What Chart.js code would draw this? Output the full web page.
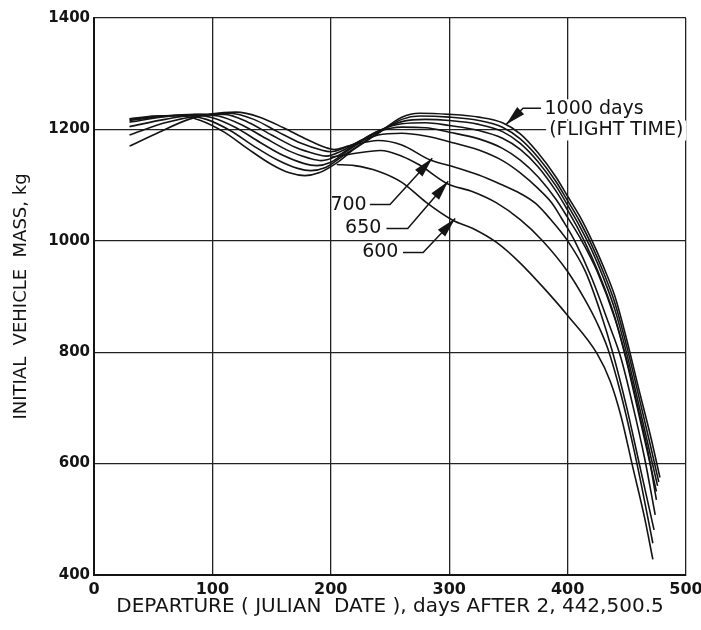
<!DOCTYPE html>
<html lang="en">
<head>
<meta charset="UTF-8">
<title>Initial vehicle mass vs departure date</title>
<script src="https://cdn.jsdelivr.net/npm/chart.js"></script>
<style>
  html, body { margin: 0; padding: 0; background: #fff; }
  #massChart { display: block; }
</style>
</head>
<body>
<canvas id="massChart" width="701" height="630"></canvas>
<script>
// departure day (after JD 2,442,500.5) and initial mass (kg), one pair per flight time
const days1000 = [30, 50, 70, 90, 110, 130, 150, 165, 178, 190, 205, 220, 240, 260, 275, 300, 325, 345, 360, 375, 390, 400, 410, 420, 430, 440, 450, 460, 470, 478];
const mass1000 = [1219, 1224, 1225, 1216, 1195, 1165, 1137, 1122, 1117, 1122, 1140, 1165, 1193, 1222, 1229, 1227, 1222, 1212, 1192, 1158, 1115, 1080, 1045, 1003, 955, 900, 822, 735, 650, 575];

const days950 = [30, 50, 75, 95, 115, 135, 155, 172, 183, 195, 210, 225, 240, 260, 275, 300, 325, 345, 360, 375, 390, 400, 410, 420, 430, 440, 450, 460, 470, 477];
const mass950 = [1218, 1223, 1225, 1218, 1198, 1170, 1145, 1130, 1126, 1131, 1152, 1173, 1194, 1218, 1224, 1222, 1216, 1204, 1183, 1150, 1107, 1072, 1036, 994, 945, 888, 810, 722, 632, 567];

const days900 = [30, 55, 80, 100, 120, 140, 160, 177, 188, 200, 215, 240, 260, 280, 300, 325, 345, 360, 375, 390, 400, 410, 420, 430, 440, 450, 460, 470, 476];
const mass900 = [1216, 1223, 1226, 1221, 1203, 1177, 1153, 1139, 1135, 1141, 1163, 1196, 1214, 1218, 1216, 1209, 1196, 1175, 1142, 1099, 1064, 1027, 985, 935, 876, 797, 707, 615, 560];

const days850 = [30, 60, 85, 105, 125, 145, 165, 182, 192, 205, 220, 240, 260, 280, 300, 325, 345, 360, 375, 390, 400, 410, 420, 430, 440, 450, 460, 470, 475];
const mass850 = [1213, 1223, 1227, 1224, 1208, 1184, 1161, 1148, 1144, 1152, 1172, 1197, 1210, 1212, 1207, 1198, 1184, 1164, 1133, 1090, 1055, 1017, 973, 922, 862, 782, 690, 597, 550];

const days800 = [30, 60, 90, 110, 130, 150, 170, 187, 196, 210, 225, 240, 260, 280, 300, 325, 345, 360, 375, 390, 400, 412, 425, 440, 450, 460, 468, 475];
const mass800 = [1205, 1218, 1227, 1227, 1213, 1190, 1168, 1156, 1152, 1162, 1180, 1196, 1204, 1203, 1195, 1183, 1166, 1145, 1115, 1075, 1042, 1000, 945, 860, 785, 695, 620, 535];

const days750 = [30, 60, 90, 115, 135, 155, 175, 192, 200, 215, 240, 260, 280, 300, 325, 345, 360, 375, 387, 395, 406, 420, 435, 445, 455, 465, 474];
const mass750 = [1190, 1212, 1225, 1229, 1218, 1196, 1175, 1163, 1160, 1170, 1190, 1193, 1188, 1178, 1163, 1144, 1122, 1094, 1067, 1040, 1000, 935, 850, 790, 705, 610, 508];

const days700 = [30, 55, 80, 100, 120, 140, 160, 180, 195, 203, 215, 240, 260, 284, 300, 325, 345, 360, 373, 385, 400, 415, 428, 438, 450, 460, 473];
const mass700 = [1170, 1195, 1218, 1228, 1231, 1222, 1203, 1182, 1168, 1164, 1170, 1180, 1172, 1145, 1135, 1118, 1100, 1085, 1067, 1040, 1000, 945, 870, 800, 700, 605, 481];

const days650 = [200, 215, 242, 260, 275, 298, 320, 340, 360, 378, 400, 415, 425, 434, 445, 455, 462, 472];
const mass650 = [1150, 1155, 1162, 1152, 1136, 1103, 1088, 1068, 1038, 1002, 945, 893, 852, 806, 725, 635, 565, 457];

const days600 = [205, 220, 240, 260, 280, 303, 320, 340, 360, 380, 400, 425, 436, 445, 455, 465, 472];
const mass600 = [1137, 1135, 1125, 1105, 1070, 1037, 1022, 997, 960, 915, 866, 797, 748, 686, 594, 503, 428];

const xTicks = [0, 100, 200, 300, 400, 500];
const yTicks = [400, 600, 800, 1000, 1200, 1400];

// flight-time callouts (data units): label centre, leader start, elbow, arrow tip
const calloutText = ['700', '650', '600'];
const calloutLabelX = [215, 227.4, 241.8];
const calloutLabelY = [1065, 1022, 979];
const calloutStartX = [233, 247, 261];
const calloutElbowX = [250, 265, 278];
const calloutTipX = [285.7, 299.2, 305.1];
const calloutTipY = [1148, 1107, 1040];

const topLabel = ['1000 days', '(FLIGHT TIME)'];
const topLabelX = [380.5, 384.4];
const topLabelY = [1236, 1198];
const topLeader = [[377.5, 1238], [362.4, 1238], [348.1, 1209]];

const ink = '#141414';
Chart.defaults.font.family = '"DejaVu Sans", sans-serif';
Chart.defaults.color = ink;

function pts(xs, ys) {
	return xs.map((v, i) => ({x: v, y: ys[i]}));
}

function curve(xs, ys) {
	return {
		data: pts(xs, ys),
		borderColor: ink,
		borderWidth: 1.6,
		pointRadius: 0,
		fill: false,
		cubicInterpolationMode: 'monotone'
	};
}

function arrowHead(ctx, fx, fy, tx, ty) {
	const dx = tx - fx, dy = ty - fy;
	const len = Math.hypot(dx, dy);
	const ux = dx / len, uy = dy / len;
	const bx = tx - ux * 20, by = ty - uy * 20;
	ctx.beginPath();
	ctx.moveTo(tx, ty);
	ctx.lineTo(bx - uy * 5, by + ux * 5);
	ctx.lineTo(bx + uy * 5, by - ux * 5);
	ctx.closePath();
	ctx.fill();
}

const calloutPlugin = {
	id: 'callouts',
	afterDraw(chart) {
		const {ctx} = chart;
		const xs = chart.scales.x, ys = chart.scales.y;
		const px = v => xs.getPixelForValue(v);
		const py = v => ys.getPixelForValue(v);
		ctx.save();
		ctx.strokeStyle = ink;
		ctx.fillStyle = ink;
		ctx.lineWidth = 1.5;

		// 700 / 650 / 600 leaders
		ctx.font = '19px "DejaVu Sans", sans-serif';
		ctx.textAlign = 'center';
		ctx.textBaseline = 'middle';
		calloutText.forEach((t, i) => {
			const ly = py(calloutLabelY[i]);
			ctx.fillText(t, px(calloutLabelX[i]), ly);
			ctx.beginPath();
			ctx.moveTo(px(calloutStartX[i]), ly);
			ctx.lineTo(px(calloutElbowX[i]), ly);
			ctx.lineTo(px(calloutTipX[i]), py(calloutTipY[i]));
			ctx.stroke();
			arrowHead(ctx, px(calloutElbowX[i]), ly, px(calloutTipX[i]), py(calloutTipY[i]));
		});

		// 1000 days (FLIGHT TIME)
		ctx.font = '19px "DejaVu Sans", sans-serif';
		ctx.textAlign = 'left';
		topLabel.forEach((t, i) => {
			const w = ctx.measureText(t).width;
			ctx.fillStyle = '#fff';
			ctx.fillRect(px(topLabelX[i]) - 3, py(topLabelY[i]) - 10, w + 6, 20);
			ctx.fillStyle = ink;
			ctx.fillText(t, px(topLabelX[i]), py(topLabelY[i]));
		});
		ctx.beginPath();
		ctx.moveTo(px(topLeader[0][0]), py(topLeader[0][1]));
		ctx.lineTo(px(topLeader[1][0]), py(topLeader[1][1]));
		ctx.lineTo(px(topLeader[2][0]), py(topLeader[2][1]));
		ctx.stroke();
		arrowHead(ctx, px(topLeader[1][0]), py(topLeader[1][1]), px(topLeader[2][0]), py(topLeader[2][1]));
		ctx.restore();
	}
};

new Chart(document.getElementById('massChart'), {
	type: 'line',
	data: {
		datasets: [
			curve(days1000, mass1000),
			curve(days950, mass950),
			curve(days900, mass900),
			curve(days850, mass850),
			curve(days800, mass800),
			curve(days750, mass750),
			curve(days700, mass700),
			curve(days650, mass650),
			curve(days600, mass600)
		]
	},
	options: {
		responsive: false,
		animation: false,
		devicePixelRatio: 1,
		layout: {padding: {top: 18, right: 15, left: 0, bottom: 0}},
		plugins: {legend: {display: false}, tooltip: {enabled: false}},
		scales: {
			x: {
				type: 'linear',
				min: 0,
				max: 500,
				afterBuildTicks: s => { s.ticks = xTicks.map(v => ({value: v})); },
				afterFit: s => { s.height = 55; s.paddingLeft = 0; s.paddingRight = 0; },
				ticks: {font: {size: 16, weight: 'bold'}, padding: 5, color: ink, callback: v => String(v)},
				grid: {color: '#222', lineWidth: 1.3, drawTicks: false},
				border: {color: ink, width: 2},
				title: {
					display: true,
					text: 'DEPARTURE ( JULIAN  DATE ), days AFTER 2, 442,500.5',
					font: {size: 20},
					color: ink,
					padding: {top: 0, bottom: 11}
				}
			},
			y: {
				min: 400,
				max: 1400,
				afterBuildTicks: s => { s.ticks = yTicks.map(v => ({value: v})); },
				afterFit: s => { s.width = 94; s.paddingTop = 0; s.paddingBottom = 0; },
				ticks: {font: {size: 15, weight: 'bold'}, padding: 4, color: ink, callback: v => String(v)},
				grid: {color: '#222', lineWidth: 1.3, drawTicks: false},
				border: {color: ink, width: 2},
				title: {
					display: true,
					text: 'INITIAL  VEHICLE  MASS, kg',
					font: {size: 18},
					color: ink,
					padding: {top: 11, bottom: 0}
				}
			}
		}
	},
	plugins: [calloutPlugin]
});
</script>
</body>
</html>
